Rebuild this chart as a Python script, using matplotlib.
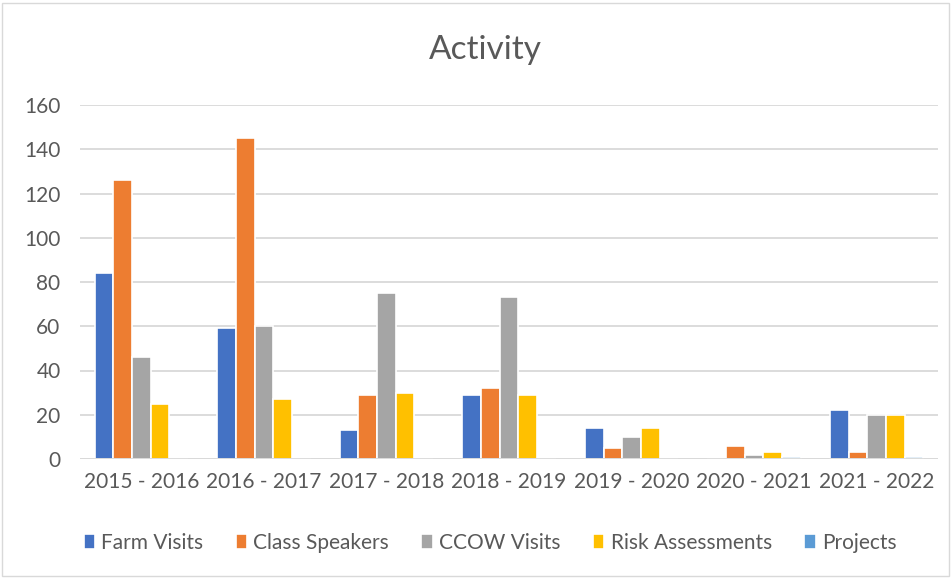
import matplotlib
matplotlib.use("Agg")
import matplotlib.pyplot as plt
from matplotlib.patches import Rectangle
import numpy as np

categories = ["2015 - 2016", "2016 - 2017", "2017 - 2018", "2018 - 2019",
              "2019 - 2020", "2020 - 2021", "2021 - 2022"]
farm_visits = [84, 59, 13, 29, 14, 0, 22]
class_speakers = [126, 145, 29, 32, 5, 6, 3]
ccow_visits = [46, 60, 75, 73, 10, 2, 20]
risk_assessments = [25, 27, 30, 29, 14, 3, 20]
projects = [0, 0, 0, 0, 0, 1, 1]

series_names = ["Farm Visits", "Class Speakers", "CCOW Visits", "Risk Assessments", "Projects"]
series = [farm_visits, class_speakers, ccow_visits, risk_assessments, projects]
colors = ["#4472C4", "#ED7D31", "#A5A5A5", "#FFC000", "#5B9BD5"]
yticks = [0, 20, 40, 60, 80, 100, 120, 140, 160]

plt.rcParams['font.family'] = ['Lato', 'DejaVu Sans']
txt = "#595959"

fig = plt.figure(figsize=(9.52, 5.78), dpi=100)
ax = fig.add_axes([80/952, 1-459/578, 858/952, 354/578])

x = np.arange(len(categories))
w = 0.1525
for i, (name, vals, c) in enumerate(zip(series_names, series, colors)):
    ax.bar(x + (i - 2) * w, vals, width=w, color=c, edgecolor="white",
           linewidth=1.2, label=name, zorder=3)

ax.set_xlim(-0.5, len(categories) - 0.5)
ax.set_ylim(0, 160)
ax.set_yticks(yticks)
ax.set_xticks(x)
ax.set_xticklabels(categories)
ax.grid(axis="y", color="#D9D9D9", linewidth=1.3, zorder=0)
for s in ax.spines.values():
    s.set_visible(False)
ax.axhline(0, color="#D9D9D9", linewidth=1.3, zorder=4)
ax.tick_params(axis="both", length=0, labelsize=15, colors=txt)
ax.tick_params(axis="y", pad=14)
ax.tick_params(axis="x", pad=9)

fig.text(485/952, 1-50/578, "Activity", ha="center", va="center", fontsize=24, color=txt)

leg = fig.legend(loc="center", bbox_to_anchor=(490/952, 1-543/578), ncol=5, frameon=False,
                 fontsize=15, handlelength=0.55, handleheight=0.75, handletextpad=0.3,
                 columnspacing=1.55, labelcolor=txt)

fig.patches.append(Rectangle((2/952, 2/578), 947/952, 573/578, transform=fig.transFigure,
                             fill=False, edgecolor="#D9D9D9", linewidth=1))

fig.savefig("out.png", dpi=100)
